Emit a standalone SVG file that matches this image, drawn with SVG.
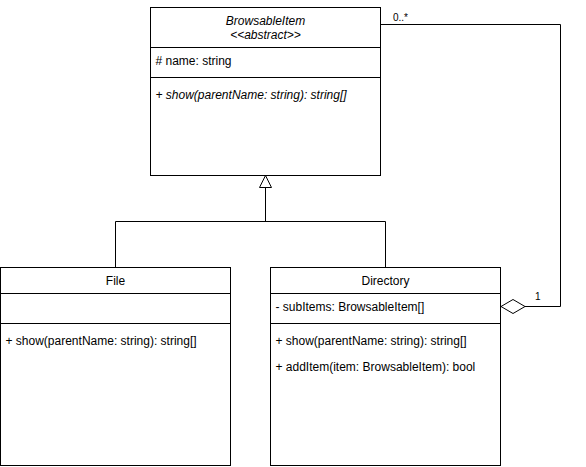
<svg xmlns="http://www.w3.org/2000/svg" width="586" height="467" viewBox="0 0 586 467">
<style>
.box{fill:#fff;stroke:#000;stroke-width:1}
.ln{fill:none;stroke:#000;stroke-width:1}
text{font-family:"Liberation Sans",Arial,Helvetica,sans-serif;font-size:12px;fill:#000}
.c{text-anchor:middle}
.i{font-style:italic}
.s{font-size:10px}
</style>
<rect width="586" height="467" fill="#fff"/>
<g id="connectors">
<path class="ln" d="M115.5 267.5 V221.5 H385.5 V267.5 M265.5 221.5 V187.5"/>
<polygon class="box" points="265.5,175.5 259.5,187.5 271.5,187.5"/>
<path class="ln" d="M380.5 24.5 H560.5 V306.5 H525"/>
<polygon class="box" points="501,306.5 513,299.5 525,306.5 513,313.5"/>
<text class="s" x="393" y="20.5">0..*</text>
<text class="s" x="535" y="300">1</text>
</g>
<g id="BrowsableItem">
<rect class="box" x="150.5" y="7.5" width="230" height="168"/>
<path class="ln" d="M150.5 47.5 H380.5 M150.5 77.5 H380.5"/>
<text class="c i" x="265.5" y="24.5">BrowsableItem</text>
<text class="c i" x="265.5" y="38.5">&lt;&lt;abstract&gt;&gt;</text>
<text x="155.5" y="64.5"># name: string</text>
<text class="i" x="155.5" y="98.5">+ show(parentName: string): string[]</text>
</g>
<g id="File">
<rect class="box" x="0.5" y="267.5" width="230" height="198"/>
<path class="ln" d="M0.5 293.5 H230.5 M0.5 323.5 H230.5"/>
<text class="c" x="115.5" y="284.5">File</text>
<text x="5.5" y="344.5">+ show(parentName: string): string[]</text>
</g>
<g id="Directory">
<rect class="box" x="270.5" y="267.5" width="230" height="198"/>
<path class="ln" d="M270.5 293.5 H500.5 M270.5 323.5 H500.5"/>
<text class="c" x="385.5" y="284.5">Directory</text>
<text x="275.5" y="310.5">- subItems: BrowsableItem[]</text>
<text x="275.5" y="344.5">+ show(parentName: string): string[]</text>
<text x="275.5" y="370.5">+ addItem(item: BrowsableItem): bool</text>
</g>
</svg>
